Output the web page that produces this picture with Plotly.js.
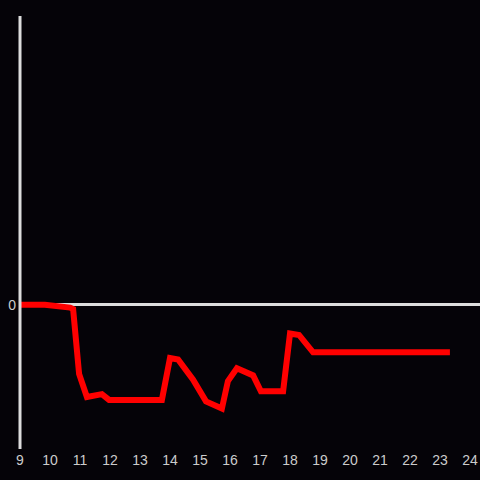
<!DOCTYPE html>
<html>
<head>
<meta charset="utf-8">
<script src="https://cdn.plot.ly/plotly-3.0.1.min.js"></script>
<style>html,body{margin:0;padding:0;background:#050308;}</style>
</head>
<body>
<div id="chart" style="width:480px;height:480px;"></div>
<script>
const xValues = [9, 9.83, 10.67, 10.77, 10.97, 11.23, 11.73, 11.97, 13.73, 14.0, 14.27, 14.77, 15.2, 15.73, 15.93, 16.23, 16.77, 17.03, 17.77, 18.0, 18.3, 18.77, 23.33];
const yValues = [0, 0, -0.02, -0.03, -0.48, -0.64, -0.62, -0.66, -0.66, -0.37, -0.38, -0.52, -0.67, -0.72, -0.53, -0.44, -0.49, -0.6, -0.6, -0.2, -0.21, -0.33, -0.33];
const xTicks = [9,10,11,12,13,14,15,16,17,18,19,20,21,22,23,24];
const yTicks = [0];

Plotly.newPlot('chart', [{
  x: xValues, y: yValues, type: 'scatter', mode: 'lines',
  line: {color: '#ff0000', width: 6}, hoverinfo: 'skip'
}], {
  width: 480, height: 480,
  paper_bgcolor: '#050308', plot_bgcolor: '#050308',
  margin: {l: 20, r: 0, t: 16, b: 31},
  showlegend: false,
  font: {family: 'Liberation Sans, Arial, sans-serif', size: 14, color: '#cccccc'},
  xaxis: {range: [9, 24.333], tickvals: xTicks, ticktext: xTicks.map(String),
          showgrid: false, zeroline: false, showline: false, ticks: '', fixedrange: true,
          tickfont: {size: 14, color: '#cccccc'}, ticklabelstandoff: 1},
  yaxis: {range: [-1, 2], tickvals: yTicks, ticktext: ['0'], showgrid: false,
          zeroline: true, zerolinecolor: '#dddddd', zerolinewidth: 3,
          showline: false, ticks: '',
          tickfont: {size: 14, color: '#cccccc'}, ticklabelstandoff: 3},
  shapes: [{type: 'line', xref: 'paper', yref: 'paper', x0: 0, x1: 0, y0: 0, y1: 1,
            line: {color: '#dddddd', width: 3}, layer: 'above'}]
}, {staticPlot: true});
</script>
</body>
</html>
